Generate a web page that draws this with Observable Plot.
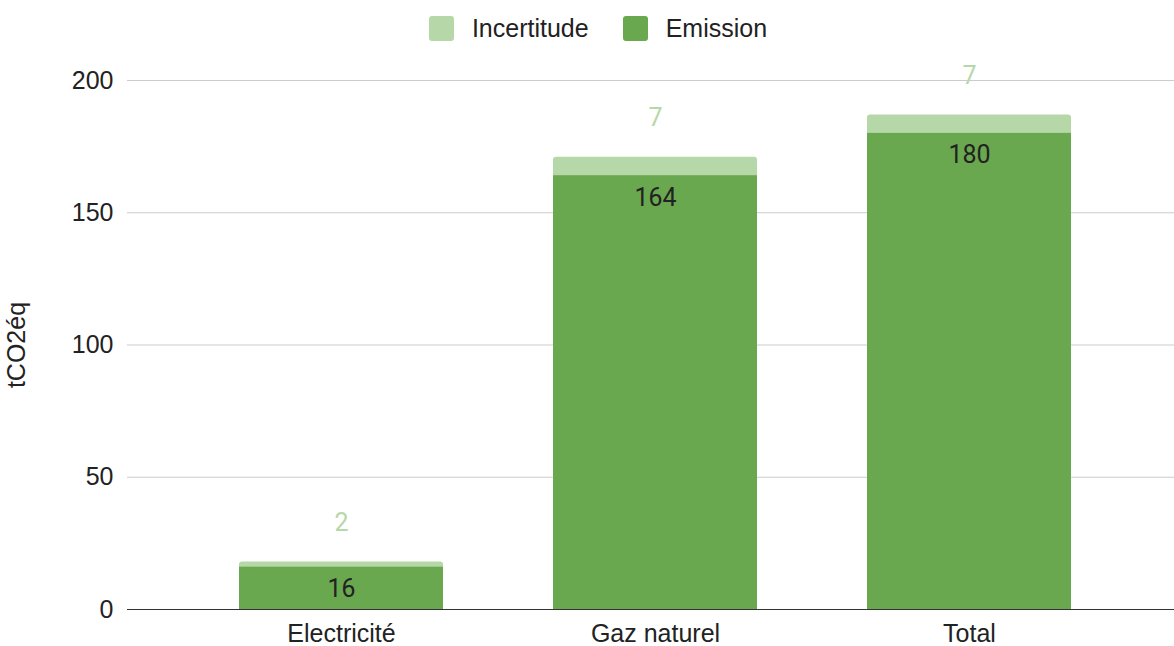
<!DOCTYPE html>
<html>
<head>
<meta charset="utf-8">
<script src="https://cdn.jsdelivr.net/npm/d3@7"></script>
<script src="https://cdn.jsdelivr.net/npm/@observablehq/plot@0.6"></script>
<style>
  html, body { margin: 0; padding: 0; background: #fff; }
  #legend { height: 56px; display: flex; justify-content: center; align-items: center; font-family: "Liberation Sans", Arial, sans-serif; font-size: 25px; color: #222; padding-left: 22px; box-sizing: border-box; }
  .item { display: flex; align-items: center; margin: 0 17px; }
  .sw { width: 25px; height: 25px; border-radius: 3px; margin-right: 18px; }
</style>
</head>
<body>
<div id="legend"></div>
<div id="chart"></div>
<script>
const categories = ["Electricité", "Gaz naturel", "Total"];
const emission = [16, 164, 180];
const incertitude = [2, 7, 7];
const yTicks = [0, 50, 100, 150, 200];
const seriesNames = ["Incertitude", "Emission"];
const seriesColors = ["#b6d7a8", "#6aa84f"];

const data = categories.map((c, i) => ({
  cat: c,
  emission: emission[i],
  inc: incertitude[i],
  top: emission[i] + incertitude[i]
}));

const legend = document.getElementById("legend");
seriesNames.forEach((n, i) => {
  const it = document.createElement("div");
  it.className = "item";
  const sw = document.createElement("div");
  sw.className = "sw";
  sw.style.background = seriesColors[i];
  const t = document.createElement("span");
  t.textContent = n;
  it.appendChild(sw); it.appendChild(t);
  legend.appendChild(it);
});

const chart = Plot.plot({
  width: 1174,
  height: 590,
  marginLeft: 127,
  marginRight: 0,
  marginTop: 24,
  marginBottom: 37,
  style: { fontFamily: "'Liberation Sans', Arial, sans-serif", fontSize: "25px", color: "#222", background: "white" },
  x: { domain: categories, range: [182.5, 1127.5], paddingInner: 0.349, paddingOuter: 0.1746, label: null },
  y: { domain: [0, 200], label: null },
  marks: [
    Plot.text(data, { x: "cat", y: "top", text: "inc", dy: -39, fill: seriesColors[0], fontFamily: "Roboto", fontSize: 25 }),
    Plot.gridY(yTicks, { stroke: "#cccccc", strokeOpacity: 1 }),
    Plot.barY(data, { x: "cat", y1: 0, y2: "top", fill: seriesColors[0], rx: 3 }),
    Plot.barY(data, { x: "cat", y1: 0, y2: "emission", fill: seriesColors[1] }),
    Plot.ruleY([0], { stroke: "#333" }),
    Plot.text(data, { x: "cat", y: "emission", text: "emission", dy: 22, fill: "#222", fontFamily: "Roboto", fontSize: 25 }),
    Plot.axisX({ tickSize: 0, tickPadding: 15, label: null }),
    Plot.axisY({ ticks: yTicks, tickSize: 0, tickPadding: 14, label: "tCO2éq", labelAnchor: "center", labelOffset: 120, labelArrow: "none" })
  ]
});
document.getElementById("chart").appendChild(chart);
</script>
</body>
</html>
